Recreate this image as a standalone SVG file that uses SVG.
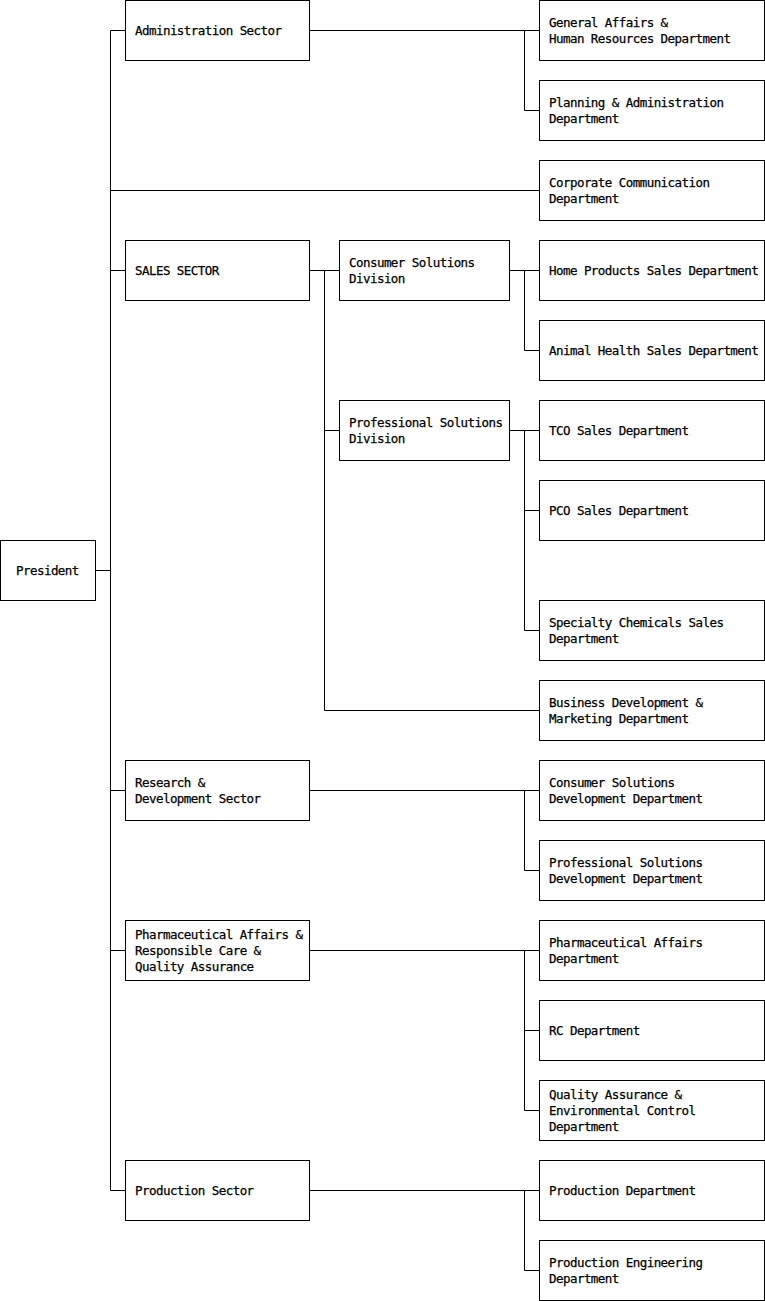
<svg xmlns="http://www.w3.org/2000/svg" width="765" height="1301" viewBox="0 0 765 1301">
<style>
rect{fill:#fff;stroke:#000;stroke-width:1}
text{font-family:"DejaVu Sans Mono","Liberation Mono",monospace;font-size:12.5px;letter-spacing:-0.55px;fill:#000;stroke:#000;stroke-width:0.25px;dominant-baseline:central}
#connectors path{fill:none;stroke:#000;stroke-width:1}
</style>
<rect x="0" y="0" width="765" height="1301" style="stroke:none"/>
<g id="connectors">
<path d="M95.5 570.5H110.5M110.5 30.5V1190.5M110.5 30.5H125.5M110.5 190.5H539.5M110.5 270.5H125.5M110.5 790.5H125.5M110.5 950.5H125.5M110.5 1190.5H125.5"/>
<path d="M309.5 30.5H539.5M524.5 30.5V110.5H539.5"/>
<path d="M309.5 270.5H339.5M324.5 270.5V710.5H539.5M324.5 430.5H339.5"/>
<path d="M509.5 270.5H539.5M524.5 270.5V350.5H539.5"/>
<path d="M509.5 430.5H539.5M524.5 430.5V630.5H539.5M524.5 510.5H539.5"/>
<path d="M309.5 790.5H539.5M524.5 790.5V870.5H539.5"/>
<path d="M309.5 950.5H539.5M524.5 950.5V1110.5H539.5M524.5 1030.5H539.5"/>
<path d="M309.5 1190.5H539.5M524.5 1190.5V1270.5H539.5"/>
</g>
<g id="president"><rect x="0.5" y="540.5" width="95" height="60"/><text x="16" y="570.5">President</text></g>
<g id="admin-sector"><rect x="125.5" y="0.5" width="184" height="60"/><text x="135" y="30.5">Administration Sector</text></g>
<g id="sales-sector"><rect x="125.5" y="240.5" width="184" height="60"/><text x="135" y="270.5">SALES SECTOR</text></g>
<g id="rd-sector"><rect x="125.5" y="760.5" width="184" height="60"/><text x="135" y="782.5">Research &amp;</text><text x="135" y="798.5">Development Sector</text></g>
<g id="pharma-sector"><rect x="125.5" y="920.5" width="184" height="60"/><text x="135" y="934.5">Pharmaceutical Affairs &amp;</text><text x="135" y="950.5">Responsible Care &amp;</text><text x="135" y="966.5">Quality Assurance</text></g>
<g id="production-sector"><rect x="125.5" y="1160.5" width="184" height="60"/><text x="135" y="1190.5">Production Sector</text></g>
<g id="consumer-division"><rect x="339.5" y="240.5" width="170" height="60"/><text x="349" y="262.5">Consumer Solutions</text><text x="349" y="278.5">Division</text></g>
<g id="professional-division"><rect x="339.5" y="400.5" width="170" height="60"/><text x="349" y="422.5">Professional Solutions</text><text x="349" y="438.5">Division</text></g>
<g id="ga-hr"><rect x="539.5" y="0.5" width="225" height="60"/><text x="549" y="22.5">General Affairs &amp;</text><text x="549" y="38.5">Human Resources Department</text></g>
<g id="planning"><rect x="539.5" y="80.5" width="225" height="60"/><text x="549" y="102.5">Planning &amp; Administration</text><text x="549" y="118.5">Department</text></g>
<g id="corp-comm"><rect x="539.5" y="160.5" width="225" height="60"/><text x="549" y="182.5">Corporate Communication</text><text x="549" y="198.5">Department</text></g>
<g id="home-products"><rect x="539.5" y="240.5" width="225" height="60"/><text x="549" y="270.5">Home Products Sales Department</text></g>
<g id="animal-health"><rect x="539.5" y="320.5" width="225" height="60"/><text x="549" y="350.5">Animal Health Sales Department</text></g>
<g id="tco"><rect x="539.5" y="400.5" width="225" height="60"/><text x="549" y="430.5">TCO Sales Department</text></g>
<g id="pco"><rect x="539.5" y="480.5" width="225" height="60"/><text x="549" y="510.5">PCO Sales Department</text></g>
<g id="specialty"><rect x="539.5" y="600.5" width="225" height="60"/><text x="549" y="622.5">Specialty Chemicals Sales</text><text x="549" y="638.5">Department</text></g>
<g id="bizdev"><rect x="539.5" y="680.5" width="225" height="60"/><text x="549" y="702.5">Business Development &amp;</text><text x="549" y="718.5">Marketing Department</text></g>
<g id="consumer-dev"><rect x="539.5" y="760.5" width="225" height="60"/><text x="549" y="782.5">Consumer Solutions</text><text x="549" y="798.5">Development Department</text></g>
<g id="professional-dev"><rect x="539.5" y="840.5" width="225" height="60"/><text x="549" y="862.5">Professional Solutions</text><text x="549" y="878.5">Development Department</text></g>
<g id="pharma-dept"><rect x="539.5" y="920.5" width="225" height="60"/><text x="549" y="942.5">Pharmaceutical Affairs</text><text x="549" y="958.5">Department</text></g>
<g id="rc-dept"><rect x="539.5" y="1000.5" width="225" height="60"/><text x="549" y="1030.5">RC Department</text></g>
<g id="qa-dept"><rect x="539.5" y="1080.5" width="225" height="60"/><text x="549" y="1094.5">Quality Assurance &amp;</text><text x="549" y="1110.5">Environmental Control</text><text x="549" y="1126.5">Department</text></g>
<g id="production-dept"><rect x="539.5" y="1160.5" width="225" height="60"/><text x="549" y="1190.5">Production Department</text></g>
<g id="production-eng"><rect x="539.5" y="1240.5" width="225" height="60"/><text x="549" y="1262.5">Production Engineering</text><text x="549" y="1278.5">Department</text></g>
</svg>
